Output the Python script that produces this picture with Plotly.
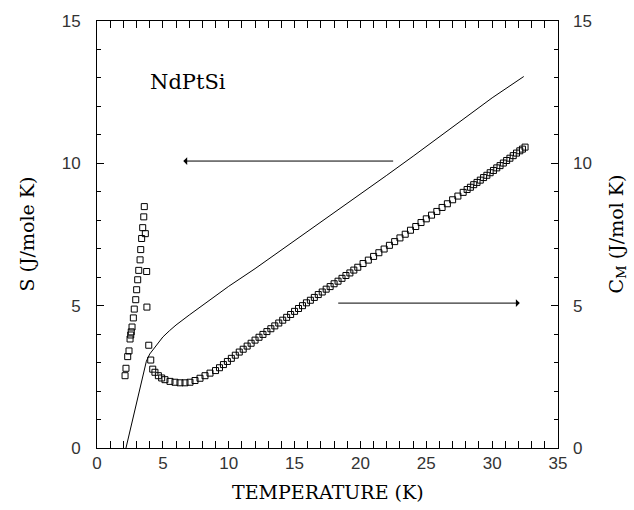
import plotly.graph_objects as go

# Entropy S (left axis), solid line
s_temp = [2.2, 2.5, 2.8, 3.1, 3.4, 3.75, 4.0, 4.5, 5.0, 5.5, 6.0, 7.0, 8.0, 9.0, 10.0,
          12.0, 14.0, 16.0, 18.0, 20.0, 22.0, 24.0, 26.0, 28.0, 30.0, 32.4]
s_val = [0.0, 0.6, 1.25, 1.8, 2.4, 3.05, 3.3, 3.62, 3.9, 4.12, 4.32, 4.67, 5.0, 5.33, 5.68,
         6.3, 6.95, 7.6, 8.25, 8.9, 9.58, 10.25, 10.93, 11.62, 12.3, 13.05]

# Magnetic specific heat C_M (right axis), open squares
c_temp = [2.13, 2.20, 2.33, 2.43, 2.51, 2.56, 2.60, 2.66, 2.76, 2.83, 2.94, 3.01, 3.09, 3.17,
          3.27, 3.32, 3.39, 3.47, 3.55, 3.59,
          3.67, 3.77, 3.79, 3.93, 4.08, 4.23,
          4.40, 4.66, 4.91, 5.16, 5.54, 5.92, 6.30, 6.68, 7.06, 7.44, 7.82, 8.20, 8.58,
          9.0, 9.3, 9.6, 9.9, 10.2, 10.5, 10.8, 11.1, 11.4, 11.7, 12.0, 12.3, 12.6, 12.9,
          13.2, 13.5, 13.8, 14.1, 14.4, 14.7, 15.0, 15.3, 15.6, 15.9, 16.2, 16.5, 16.8,
          17.1, 17.4, 17.7, 18.0, 18.3, 18.6, 18.9, 19.2, 19.5, 19.8,
          20.2, 20.6, 21.0, 21.4, 21.8, 22.2, 22.6, 23.0, 23.4, 23.8, 24.2, 24.6, 25.0,
          25.4, 25.8, 26.2, 26.6, 27.0, 27.4, 27.8,
          28.1, 28.35, 28.6, 28.85, 29.1, 29.35, 29.6, 29.85, 30.1, 30.35, 30.6, 30.85,
          31.1, 31.35, 31.6, 31.85, 32.1, 32.3, 32.5]
c_val = [2.54, 2.80, 3.21, 3.41, 3.83, 3.97, 4.08, 4.25, 4.57, 4.88, 5.21, 5.56, 5.91, 6.24,
         6.61, 6.97, 7.36, 7.74, 8.12, 8.48,
         7.53, 6.20, 4.95, 3.61, 3.09, 2.77,
         2.66, 2.54, 2.46, 2.40, 2.34, 2.31, 2.29, 2.29, 2.31, 2.37, 2.45, 2.54, 2.63,
         2.72, 2.82, 2.93, 3.04, 3.15, 3.26, 3.37, 3.47, 3.58, 3.68, 3.79, 3.89, 3.99, 4.09,
         4.19, 4.29, 4.39, 4.49, 4.59, 4.69, 4.80, 4.90, 5.00, 5.10, 5.19, 5.29, 5.39,
         5.48, 5.58, 5.67, 5.77, 5.86, 5.96, 6.06, 6.15, 6.25, 6.35,
         6.48, 6.60, 6.73, 6.86, 6.99, 7.12, 7.25, 7.38, 7.51, 7.65, 7.78, 7.92, 8.05,
         8.18, 8.31, 8.45, 8.58, 8.72, 8.85, 8.98,
         9.08, 9.16, 9.25, 9.33, 9.41, 9.50, 9.58, 9.67, 9.75, 9.84, 9.92, 10.01,
         10.10, 10.18, 10.27, 10.36, 10.44, 10.50, 10.57]

x_ticks = [0, 5, 10, 15, 20, 25, 30, 35]
y_ticks = [0, 5, 10, 15]

TICK_FONT = dict(family="Liberation Sans", size=17, color="#333")
SERIF = "DejaVu Serif"

fig = go.Figure()
fig.add_trace(go.Scatter(x=s_temp, y=s_val, mode="lines",
                         line=dict(color="black", width=1), yaxis="y", showlegend=False))
fig.add_trace(go.Scatter(x=c_temp, y=c_val, mode="markers",
                         marker=dict(symbol="square-open", size=6, color="black",
                                     line=dict(width=1, color="black")),
                         yaxis="y2", showlegend=False))

axis_common = dict(showgrid=False, zeroline=False, showline=True, linecolor="black",
                   linewidth=1, ticks="inside", ticklen=7, tickwidth=1, tickcolor="black",
                   mirror="allticks", tickfont=TICK_FONT)

fig.update_layout(
    width=634, height=510,
    margin=dict(l=97, r=76, t=17, b=62),
    paper_bgcolor="white", plot_bgcolor="white",
    xaxis=dict(range=[0, 35], tickvals=x_ticks, ticklabelstandoff=0,
               minor=dict(ticks="inside", dtick=1, ticklen=4, tickcolor="black"),
               **axis_common),
    yaxis=dict(range=[0, 15], tickvals=y_ticks, ticklabelstandoff=12,
               minor=dict(ticks="inside", dtick=1, ticklen=4, tickcolor="black"),
               **axis_common),
    yaxis2=dict(range=[0, 15], tickvals=y_ticks, overlaying="y", side="right",
                showgrid=False, zeroline=False, showline=False, ticks="",
                ticklabelstandoff=14, tickfont=TICK_FONT),
    annotations=[
        dict(text="TEMPERATURE (K)", xref="paper", yref="paper", x=0.5, y=-0.104,
             showarrow=False, font=dict(family=SERIF, size=19, color="black"),
             xanchor="center", yanchor="middle"),
        dict(text="S (J/mole K)", xref="paper", yref="paper", x=-0.154, y=0.5,
             textangle=-90, showarrow=False, font=dict(family=SERIF, size=19, color="black"),
             xanchor="center", yanchor="middle"),
        dict(text="C<sub>M</sub> (J/mol K)", xref="paper", yref="paper", x=1.128, y=0.5,
             textangle=-90, showarrow=False, font=dict(family=SERIF, size=19, color="black"),
             xanchor="center", yanchor="middle"),
        dict(text="NdPtSi", xref="x", yref="y", x=3.9, y=12.87, xanchor="left",
             yanchor="middle", showarrow=False, font=dict(family=SERIF, size=21, color="black")),
        dict(x=6.55, y=10.08, ax=22.6, ay=10.08, xref="x", yref="y", axref="x", ayref="y",
             text="", showarrow=True, arrowhead=1, arrowsize=1.3, arrowwidth=1,
             arrowcolor="black"),
        dict(x=32.1, y=5.09, ax=18.2, ay=5.09, xref="x", yref="y", axref="x", ayref="y",
             text="", showarrow=True, arrowhead=1, arrowsize=1.3, arrowwidth=1,
             arrowcolor="black"),
    ],
)

fig.write_html("out.html")
